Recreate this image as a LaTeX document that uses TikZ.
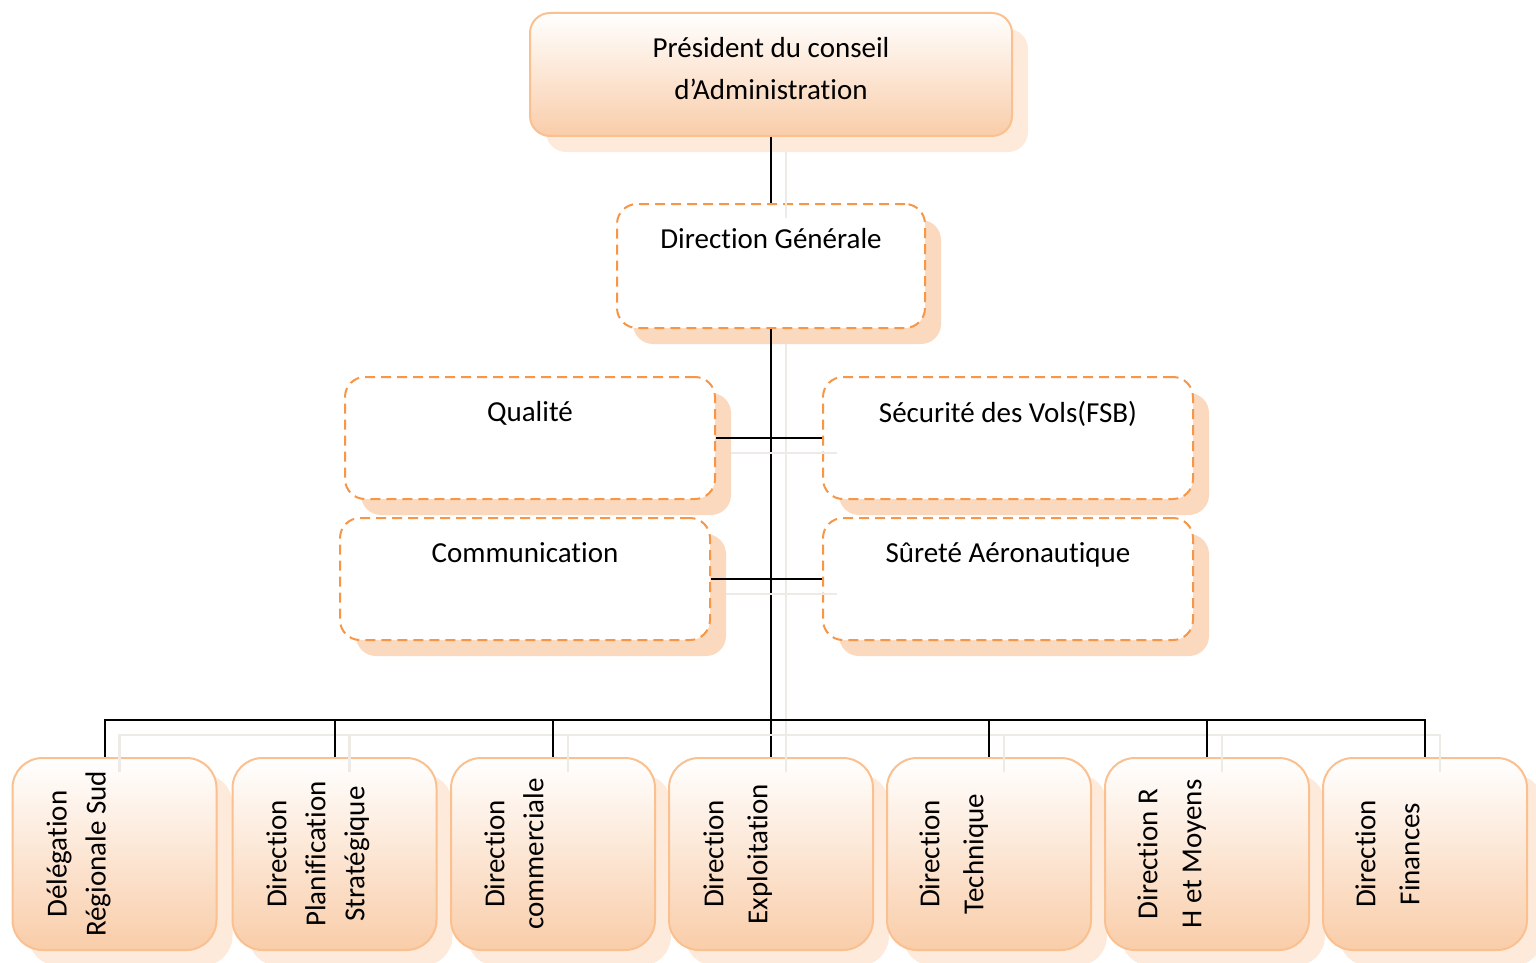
\documentclass[tikz,border=0pt]{standalone}
\usepackage{fontspec}
\setmainfont[Ligatures=NoCommon]{Carlito}
\usepackage{tikz}
\usetikzlibrary{positioning,shadows}
\definecolor{orgline}{HTML}{FAC090}
\definecolor{orgdash}{HTML}{F79646}
\definecolor{orgshade}{HTML}{FBD5B7}
\definecolor{orgfill}{HTML}{F9CDA9}
\definecolor{orgwire}{HTML}{EEEAE6}

\tikzset{
  orgbox/.style={draw=orgline, line width=1pt, rounded corners=10pt,
    top color=white, bottom color=orgfill,
    drop shadow={shadow xshift=8pt, shadow yshift=-8pt, fill=orgshade, opacity=0.5}},
  unitbox/.style={draw=orgdash, line width=1pt, dash pattern=on 5pt off 3pt,
    rounded corners=10pt, fill=white, minimum width=185pt, minimum height=61pt,
    drop shadow={shadow xshift=8pt, shadow yshift=-8pt, fill=orgshade, opacity=0.9}},
  deptbox/.style={orgbox, rounded corners=15pt, minimum width=102pt, minimum height=96pt},
  toplabel/.style={anchor=north, yshift=-12.5pt, inner sep=0pt, align=center},
  vlabel/.style={rotate=90, align=center, inner sep=0pt, anchor=north,
    font=\fontsize{14.5}{19.5}\selectfont},
  vwide/.style={vlabel, font=\fontsize{14.5}{22}\selectfont},
  wire/.style={line width=1pt,
    preaction={draw=orgwire, line width=1.2pt, transform canvas={shift={(7.5pt,-7.5pt)}}}},
}

\begin{document}
\begin{tikzpicture}[x=0.5pt,y=-0.5pt,font=\fontsize{14.5}{21}\selectfont]
  \useasboundingbox (0,0) rectangle (1536,963);

  % head of the company
  \node[orgbox, minimum width=241pt, minimum height=61.5pt,
    label={[toplabel]north:Président du conseil\\d’Administration}] (pca) at (771,74.5) {};
  \node[unitbox, minimum width=154pt, minimum height=62pt,
    label={[toplabel]north:Direction Générale}] (dg) at (771,266) {};

  % staff units
  \node[unitbox, label={[toplabel]north:Qualité}] (qual) at (530,438) {};
  \node[unitbox, label={[toplabel]north:Sécurité des Vols(FSB)}] (secu) at (1008,438) {};
  \node[unitbox, label={[toplabel]north:Communication}] (comm) at (525,579) {};
  \node[unitbox, label={[toplabel]north:Sûreté Aéronautique}] (surete) at (1008,579) {};

  % directions
  \foreach \i/\x in {1/114.5,2/334.5,3/553,4/771,5/989,6/1207,7/1425}
    \node[deptbox] (b\i) at (\x,854) {};
  \node[vlabel] (b1-t) at ([xshift=17.3pt]b1.west) {Délégation\\Régionale Sud};
  \node[vlabel] (b2-t) at ([xshift=17.3pt]b2.west) {Direction\\Planification\\Stratégique};
  \node[vlabel] (b3-t) at ([xshift=17pt]b3.west) {Direction\\commerciale};
  \node[vwide] (b4-t) at ([xshift=17.5pt]b4.west) {Direction\\Exploitation};
  \node[vwide] (b5-t) at ([xshift=16.5pt]b5.west) {Direction\\Technique};
  \node[vwide] (b6-t) at ([xshift=16.5pt]b6.west) {Direction R\\H et Moyens};
  \node[vwide] (b7-t) at ([xshift=16.5pt]b7.west) {Direction\\Finances};

  % links
  \coordinate (bus) at (771,720);
  \draw[wire] (pca) -- (dg);
  \draw[wire] (dg) -- (b4);
  \draw[wire] (qual.east) -- (secu.west);
  \draw[wire] (comm.east) -- (surete.west);
  \draw[wire] ([xshift=-5pt]b1.north) -- ([xshift=-5pt]b1.north |- bus) -- (b7.north |- bus) -- (b7.north);
  \foreach \i in {2,3,5,6}
    \draw[wire] (b\i.north) -- (b\i.north |- bus);
\end{tikzpicture}
\end{document}
